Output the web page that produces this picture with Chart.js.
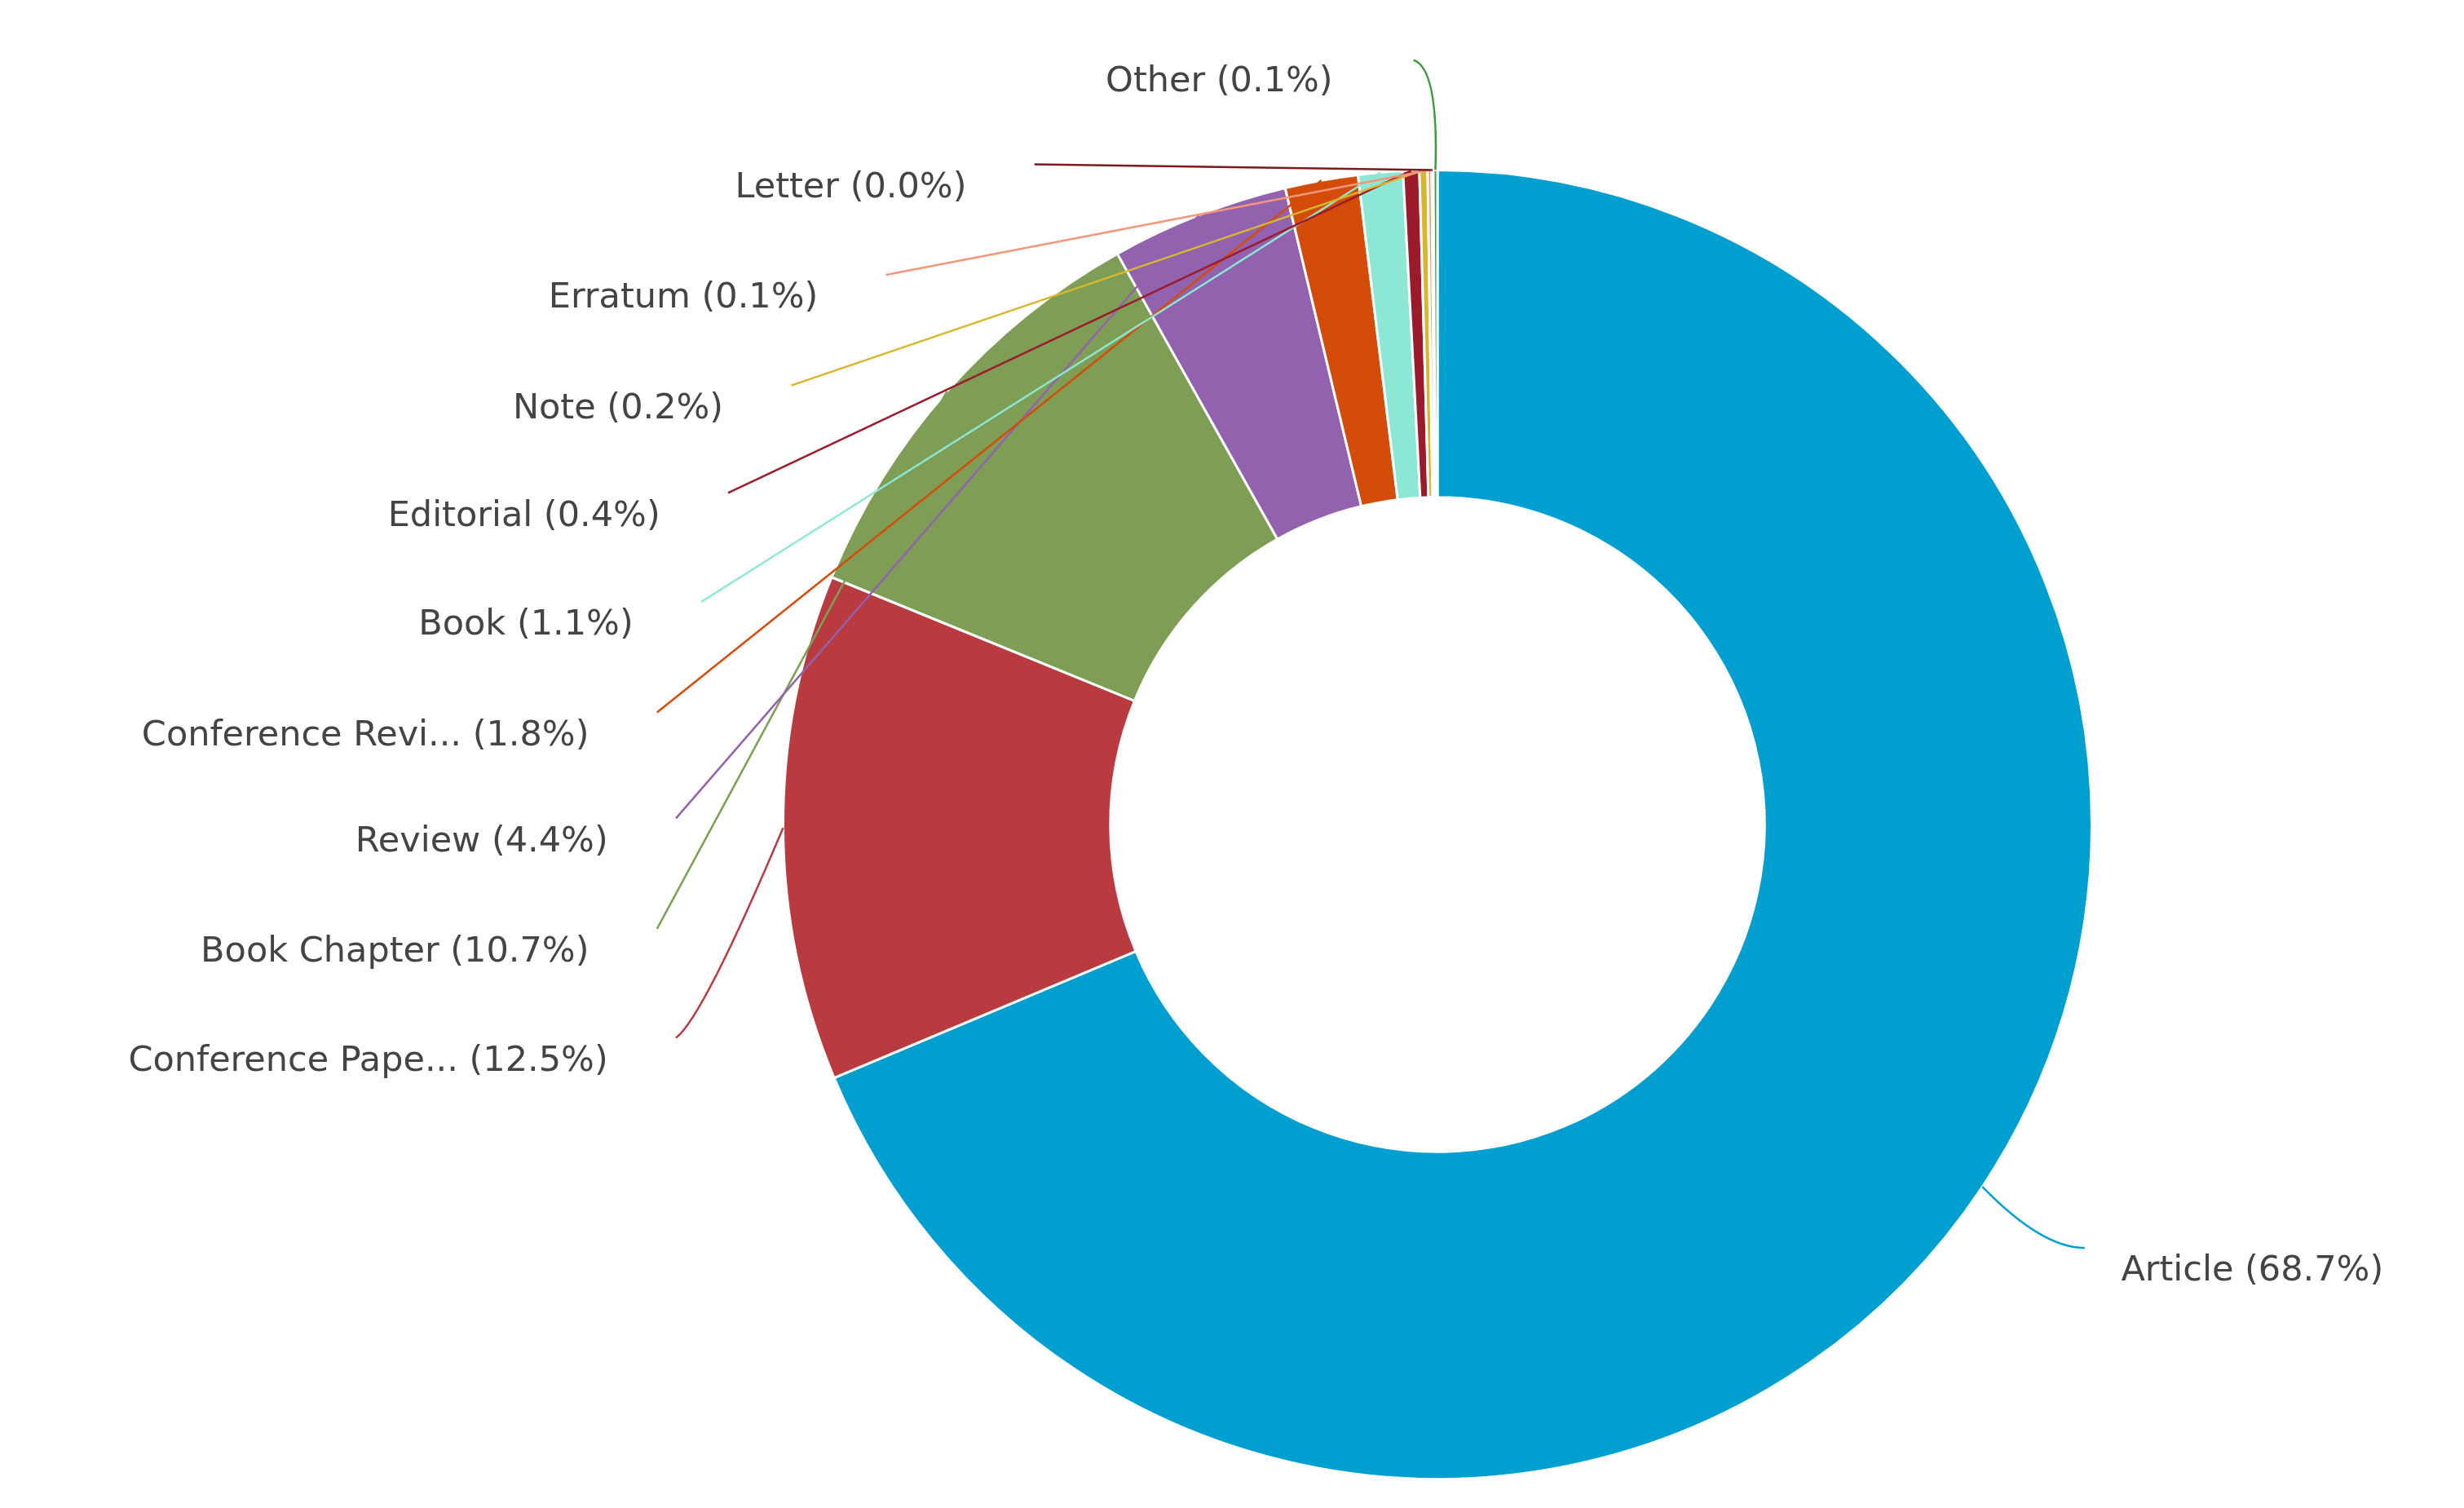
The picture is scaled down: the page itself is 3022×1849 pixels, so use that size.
<!DOCTYPE html>
<html><head><meta charset="utf-8">
<script src="https://cdn.jsdelivr.net/npm/chart.js@4/dist/chart.umd.min.js"></script>
<style>html,body{margin:0;padding:0;background:#fff}#w{width:3022px;height:1849px}</style>
</head><body><div id="w"><canvas id="c"></canvas></div>
<script>
const categories=["Article","Conference Pape...","Book Chapter","Review","Conference Revi...","Book","Editorial","Note","Erratum","Letter","Other"];
const values=[68.7,12.5,10.7,4.4,1.8,1.1,0.4,0.2,0.1,0.04,0.1];
const pctLabels=["68.7%","12.5%","10.7%","4.4%","1.8%","1.1%","0.4%","0.2%","0.1%","0.0%","0.1%"];
const colors=["#009FCF","#B93A3F","#7F9E55","#9262AE","#D44C0A","#8CE8D4","#9B1B2C","#D8B62E","#F4967A","#7B1A1A","#3C9A3C"];
const S=1.937;
// label layout (display units): [textX, textY, align]
const lay=[[1343,805,"left"],[385,672,"right"],[373,603,"right"],[385,533,"right"],[373,466,"right"],[401,396,"right"],[418,327,"right"],[458,259,"right"],[518,189,"right"],[612,119,"right"],[772,52,"center"]];
const leader={id:"leader",afterDatasetsDraw(ch){
 const ctx=ch.ctx,meta=ch.getDatasetMeta(0);
 ctx.save();ctx.font="43px 'DejaVu Sans'";ctx.fillStyle="#444";ctx.textBaseline="middle";
 meta.data.forEach((a,i)=>{
  const mid=(a.startAngle+a.endAngle)/2,r=a.outerRadius;
  const sx=a.x+Math.cos(mid)*r, sy=a.y+Math.sin(mid)*r;
  const [tx,ty,al]=lay[i];let ex,ey,cx,cy;
  if(i===0){ex=1320*S;ey=790*S;cx=(sx+ex)/2+10;cy=ey;}
  else if(i===10){ex=895*S;ey=38*S;cx=sx+4;cy=ey+10;}
  else{ex=(tx+43)*S;ey=(ty-15)*S;cx=sx*0.25+ex*0.75;cy=sy*0.25+ey*0.75+ (i===1?40:0);}
  ctx.strokeStyle=colors[i];ctx.lineWidth=2.5;ctx.beginPath();ctx.moveTo(sx,sy);ctx.quadraticCurveTo(cx,cy,ex,ey);ctx.stroke();
  ctx.textAlign=al;ctx.fillText(categories[i]+" ("+pctLabels[i]+")",tx*S,ty*S);
 });ctx.restore();}};
new Chart(document.getElementById("c"),{type:"doughnut",
 data:{labels:categories,datasets:[{data:values,backgroundColor:colors,borderColor:"#fff",borderWidth:3}]},
 options:{responsive:true,maintainAspectRatio:false,animation:false,cutout:"50%",
  layout:{padding:{left:959,right:455,top:207,bottom:34}},
  plugins:{legend:{display:false},tooltip:{enabled:false}}},
 plugins:[leader]});
</script></body></html>
